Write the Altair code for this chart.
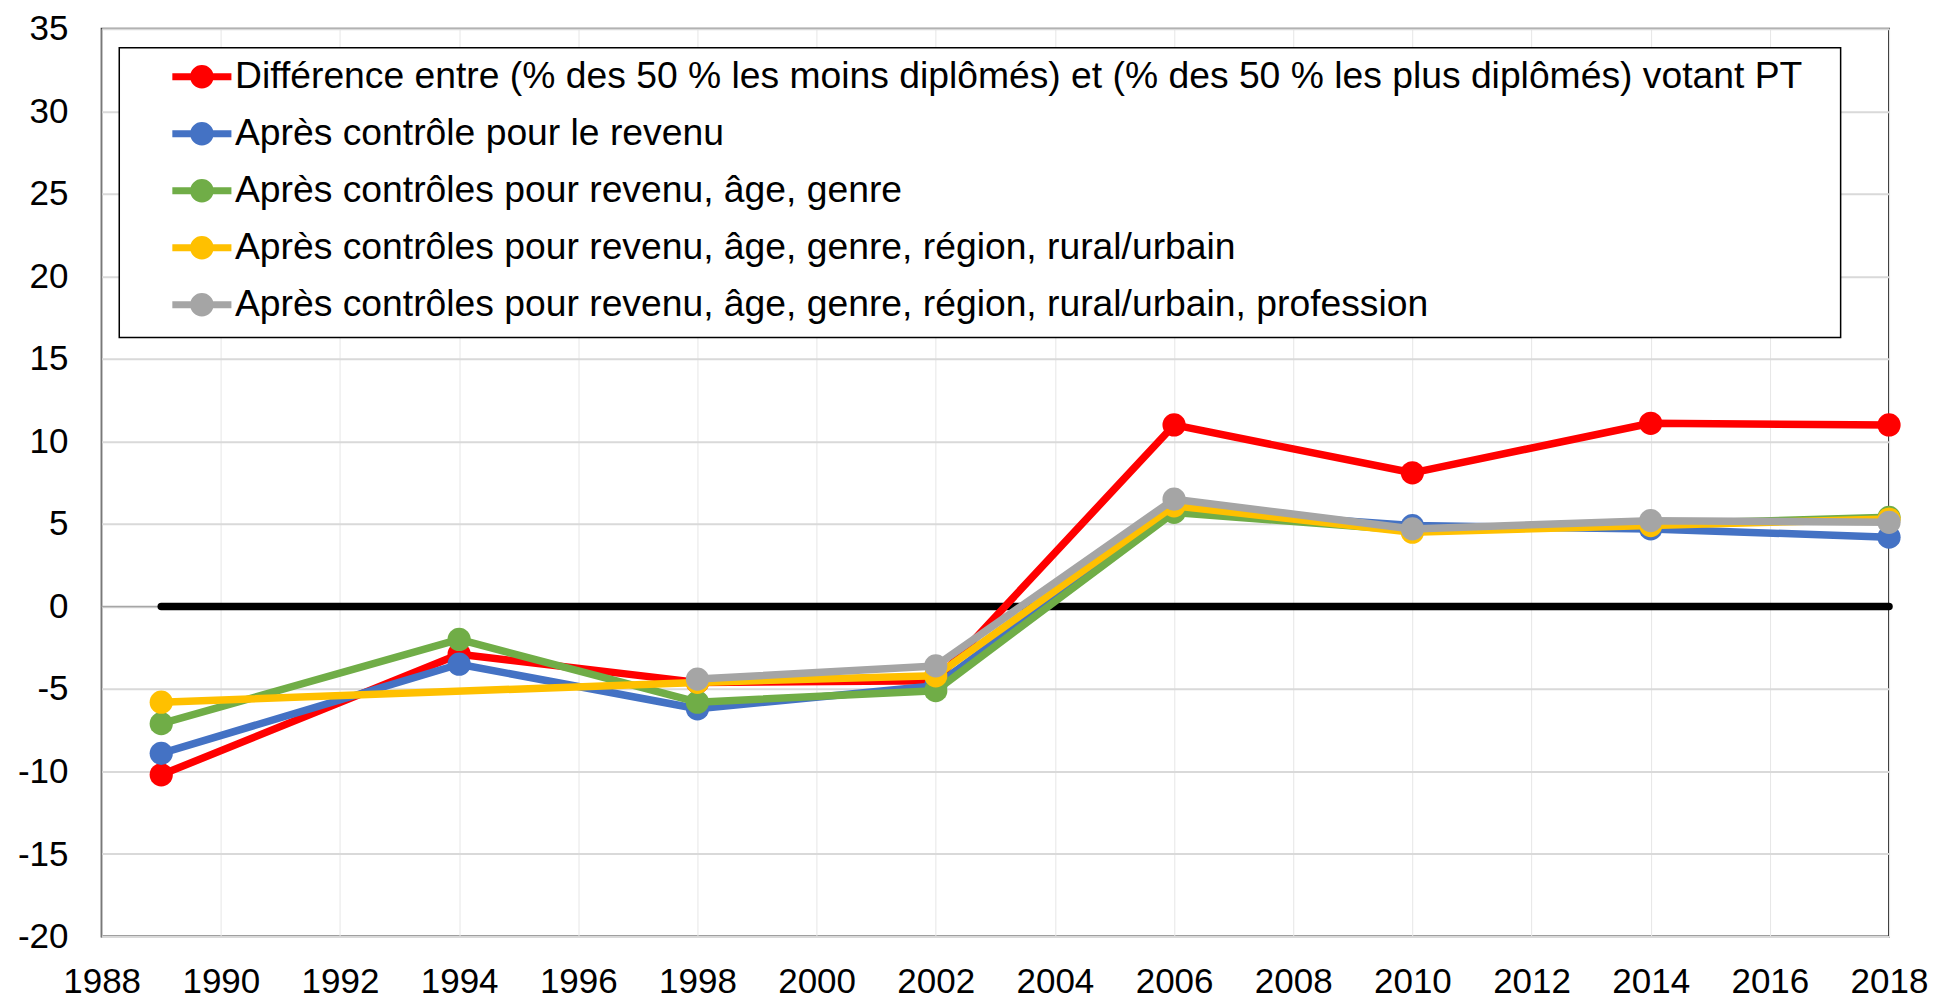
import altair as alt
import pandas as pd

# ---------------- data ----------------
years = [1989, 1994, 1998, 2002, 2006, 2010, 2014, 2018]
series_names = [
    "Différence entre (% des 50 % les moins diplômés) et (% des 50 % les plus diplômés) votant PT",
    "Après contrôle pour le revenu",
    "Après contrôles pour revenu, âge, genre",
    "Après contrôles pour revenu, âge, genre, région, rural/urbain",
    "Après contrôles pour revenu, âge, genre, région, rural/urbain, profession",
]
diff_values = [-10.2, -2.9, -4.6, -4.5, 11.0, 8.1, 11.1, 11.0]
revenu_values = [-8.9, -3.5, -6.2, -4.8, 5.9, 4.9, 4.7, 4.2]
age_genre_values = [-7.1, -2.0, -5.8, -5.1, 5.7, 4.6, 5.0, 5.4]
region_values = [-5.8, None, -4.6, -4.2, 6.1, 4.5, 4.9, 5.3]
profession_values = [None, None, -4.4, -3.6, 6.5, 4.7, 5.2, 5.1]
series_colors = ["#FF0000", "#4472C4", "#70AD47", "#FFC000", "#A5A5A5"]

zero_years = [1989, 2018]
zero_values = [0, 0]
axis_zero = [0]
x_ticks = list(range(1988, 2019, 2))
y_ticks = list(range(-20, 36, 5))

FONT = "Liberation Sans"

rows = []
for name, vals in zip(series_names, [diff_values, revenu_values, age_genre_values,
                                     region_values, profession_values]):
    for yr, v in zip(years, vals):
        if v is not None:
            rows.append({"annee": yr, "valeur": v, "serie": name})
df = pd.DataFrame(rows)
zero_df = pd.DataFrame({"annee": zero_years, "valeur": zero_values})
axis_df = pd.DataFrame({"valeur": axis_zero})

x_scale = alt.Scale(domain=[1988, 2018], nice=False, zero=False)
y_scale = alt.Scale(domain=[-20, 35], nice=False, zero=False)
color_scale = alt.Scale(domain=series_names, range=series_colors)

x_enc = alt.X("annee:Q", scale=x_scale,
              axis=alt.Axis(values=x_ticks, format="d", title=None, labelPadding=28,
                            gridColor="#E6E6E6", gridWidth=1, labelFlush=False,
                            labelOverlap=False))
y_enc = alt.Y("valeur:Q", scale=y_scale,
              axis=alt.Axis(values=y_ticks, title=None, labelPadding=33.7,
                            labelExpr="'' + datum.value",
                            gridColor="#D9D9D9", gridWidth=2))

SYMBOL = ("M-1.97,0H1.97"
          "M0.55,0A0.55,0.55,0,1,1,-0.55,0A0.55,0.55,0,1,1,0.55,0"
          "M0.27,0A0.27,0.27,0,1,1,-0.27,0A0.27,0.27,0,1,1,0.27,0")

BLANK = "\u2800"
legend = alt.Legend(
    title=None, orient="none", legendX=17.6, legendY=18.8, direction="vertical",
    symbolType=SYMBOL, symbolSize=900, symbolStrokeWidth=7, symbolOffset=53.5,
    symbolOpacity=1, labelOffset=14.5, labelFont=FONT, labelFontSize=37.3,
    labelColor="black", labelLimit=0,
    labelExpr="datum.label + '" + BLANK + "'",
    rowPadding=12, padding=10.5, strokeColor="black", fillColor="white",
)
color_enc = alt.Color("serie:N", scale=color_scale, legend=legend, sort=series_names)

axis_rule = alt.Chart(axis_df).mark_rule(color="#A6A6A6", strokeWidth=1.5).encode(y=y_enc)
zero_line = alt.Chart(zero_df).mark_line(color="black", strokeWidth=7.5, strokeCap="round").encode(
    x=x_enc, y=y_enc)

layers = [axis_rule, zero_line]
for name in series_names:
    sub = alt.Chart(df).transform_filter(alt.datum.serie == name)
    layers.append(sub.mark_line(strokeWidth=7.5, strokeJoin="round", strokeCap="round").encode(
        x=x_enc, y=y_enc, color=color_enc))
    layers.append(sub.mark_point(filled=True, size=540, opacity=1).encode(
        x=x_enc, y=y_enc, color=color_enc))

chart = alt.layer(*layers).properties(
    width=1788, height=908,
    autosize=alt.AutoSizeParams(type="none"),
    padding={"left": 93.7, "top": 20.7, "right": 40, "bottom": 62},
).configure_view(
    stroke="#404040", strokeWidth=2
).configure_axis(
    domain=False, ticks=False, tickSize=0, labelFont=FONT, labelFontSize=35,
    labelColor="black", grid=True
).configure_legend(
    strokeWidth=1.5
)

chart.save("out.html", embed_options={"renderer": "svg", "actions": False})
